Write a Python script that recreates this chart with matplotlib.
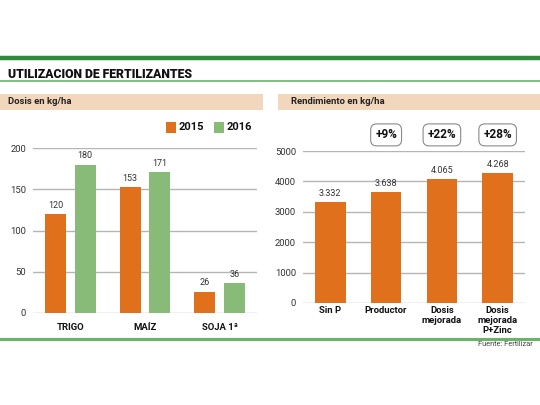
import matplotlib
matplotlib.use("Agg")
import matplotlib.pyplot as plt
from matplotlib.patches import Rectangle
from matplotlib.lines import Line2D

plt.rcParams['font.family'] = ['Roboto', 'DejaVu Sans']

# Data
crops = ["TRIGO", "MAÍZ", "SOJA 1ª"]
dose_2015 = [120, 153, 26]
dose_2016 = [180, 171, 36]
dose_ticks = [0, 50, 100, 150, 200]

treatments = ["Sin P", "Productor", "Dosis\nmejorada", "Dosis\nmejorada\nP+Zinc"]
yield_vals = [3332, 3638, 4065, 4268]
yield_labels = ["3.332", "3.638", "4.065", "4.268"]
gain_labels = ["", "+9%", "+22%", "+28%"]
yield_ticks = [0, 1000, 2000, 3000, 4000, 5000]

ORANGE = "#E0701C"
GREEN = "#88BA78"
PEACH = "#F3D7BC"
DKGREEN = "#2F8A3C"
LTGREEN = "#6BB26B"
GRID = "#B5B5B5"
TXT = "#333333"

W, H = 540, 405
fig = plt.figure(figsize=(5.4, 4.05), dpi=100)
fig.patch.set_facecolor("white")

def fx(px):
    return px / W

def fy(py):
    return 1 - py / H

# decorative lines and bands
fig.add_artist(Line2D([0, 1], [fy(58), fy(58)], color=DKGREEN, lw=3.2, transform=fig.transFigure))
fig.add_artist(Line2D([0, 1], [fy(81), fy(81)], color=LTGREEN, lw=1.2, transform=fig.transFigure))
fig.add_artist(Line2D([0, 1], [fy(339), fy(339)], color=LTGREEN, lw=2.2, transform=fig.transFigure))
fig.add_artist(Rectangle((fx(0), fy(110)), fx(263), 16 / H, color=PEACH, transform=fig.transFigure, lw=0))
fig.add_artist(Rectangle((fx(278), fy(110)), fx(262), 16 / H, color=PEACH, transform=fig.transFigure, lw=0))

fig.text(fx(8), fy(74.5), "UTILIZACION DE FERTILIZANTES", fontsize=8.8, fontweight="heavy",
         color="#111111", va="center", ha="left")
fig.text(fx(8), fy(102), "Dosis en kg/ha", fontsize=6.8, fontweight="bold", color="#222222",
         va="center", ha="left")
fig.text(fx(291), fy(102), "Rendimiento en kg/ha", fontsize=6.8, fontweight="bold", color="#222222",
         va="center", ha="left")
fig.text(fx(533), fy(344.5), "Fuente: Fertilizar", fontsize=5.3, color="#444444", va="center", ha="right")

# legend
fig.add_artist(Rectangle((fx(166), fy(133)), 10 / W, 11 / H, color=ORANGE, transform=fig.transFigure, lw=0))
fig.text(fx(179), fy(127.5), "2015", fontsize=8, fontweight="bold", color="#111111", va="center", ha="left")
fig.add_artist(Rectangle((fx(214), fy(133)), 10 / W, 11 / H, color=GREEN, transform=fig.transFigure, lw=0))
fig.text(fx(227), fy(127.5), "2016", fontsize=8, fontweight="bold", color="#111111", va="center", ha="left")

def style(ax, ticks, xpad):
    for s in ax.spines.values():
        s.set_visible(False)
    ax.set_yticks(ticks)
    ax.yaxis.grid(True, color=GRID, lw=1)
    ax.set_axisbelow(True)
    ax.tick_params(axis="y", length=0, labelsize=6.8, labelcolor=TXT, pad=5)
    ax.tick_params(axis="x", length=0, labelsize=6.8, pad=xpad)
    for lab in ax.get_xticklabels():
        lab.set_fontweight("bold")
        lab.set_color("#111111")

# left chart
ax1 = fig.add_axes([fx(33), fy(313), fx(257) - fx(33), fy(148) - fy(313)])
x = list(range(len(crops)))
off, bw = 0.2, 0.28
ax1.bar([i - off for i in x], dose_2015, width=bw, color=ORANGE, zorder=3)
ax1.bar([i + off for i in x], dose_2016, width=bw, color=GREEN, zorder=3)
for i in x:
    ax1.annotate(str(dose_2015[i]), (i - off, dose_2015[i]), xytext=(0, 3), textcoords="offset points",
                 ha="center", va="bottom", fontsize=6.5, color=TXT, annotation_clip=False)
    ax1.annotate(str(dose_2016[i]), (i + off, dose_2016[i]), xytext=(0, 3), textcoords="offset points",
                 ha="center", va="bottom", fontsize=6.5, color=TXT, annotation_clip=False)
ax1.set_xlim(-0.5, 2.5)
ax1.set_ylim(0, 200)
ax1.set_xticks(x)
ax1.set_xticklabels(crops)
style(ax1, dose_ticks, 7)

# right chart
ax2 = fig.add_axes([fx(303), fy(303), fx(525) - fx(303), fy(151) - fy(303)])
x2 = list(range(len(treatments)))
ax2.bar(x2, yield_vals, width=0.55, color=ORANGE, zorder=3)
for i in x2:
    ax2.annotate(yield_labels[i], (i, yield_vals[i]), xytext=(0, 3), textcoords="offset points",
                 ha="center", va="bottom", fontsize=6.5, color=TXT, annotation_clip=False)
    if gain_labels[i]:
        ax2.text(i, 5530, gain_labels[i], ha="center", va="center", fontsize=8.5, fontweight="bold",
                 color="#111111", clip_on=False,
                 bbox=dict(boxstyle="round,pad=0.38,rounding_size=0.5", fc="white", ec="#8a8a8a", lw=0.8))
ax2.set_xlim(-0.49, 3.49)
ax2.set_ylim(0, 5000)
ax2.set_xticks(x2)
ax2.set_xticklabels(treatments, va="top", linespacing=1.08)
style(ax2, yield_ticks, 2.5)

fig.savefig("out.png", dpi=100, facecolor="white")
